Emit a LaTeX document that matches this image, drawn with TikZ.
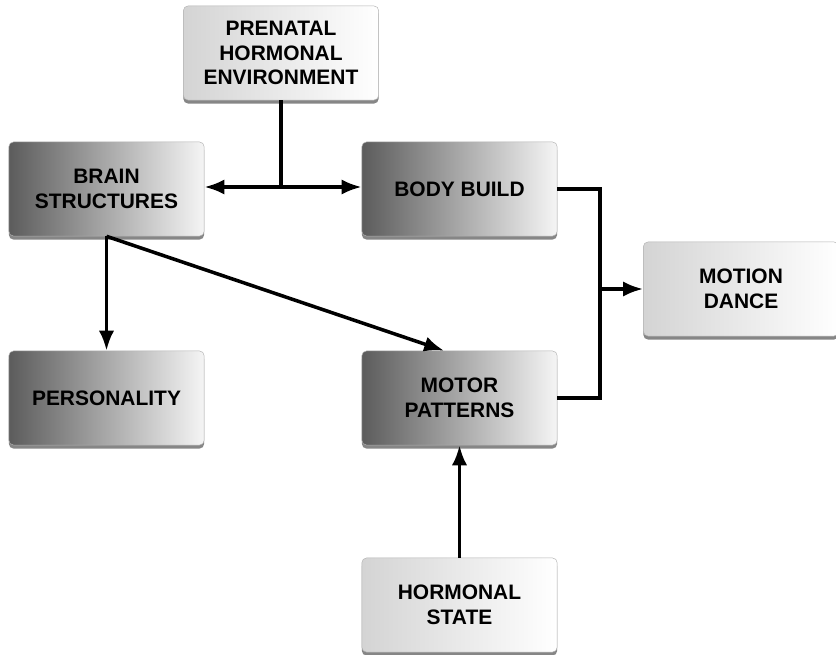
\documentclass[tikz,border=0pt]{standalone}
\usepackage{fontspec}
\setmainfont{Liberation Sans}
\usetikzlibrary{arrows.meta,shadows}

\begin{document}
\begin{tikzpicture}[x=0.85pt,y=-0.85pt,
    box/.style={rounded corners=4pt, draw=gray!60, thin,
        minimum width=166pt, minimum height=80pt, inner sep=2pt,
        align=center, font=\fontsize{17.8}{21}\selectfont\bfseries,
        drop shadow={shadow xshift=0pt, shadow yshift=-3pt, fill=gray!95, opacity=1}},
    darkbox/.style={box, left color=black!64, right color=black!4},
    lightbox/.style={box, left color=black!17, right color=white},
    link/.style={line width=3pt},
    arr/.style={link, -{Latex[length=17pt,width=13pt]}}]
    \useasboundingbox (0,0) rectangle (836,655);

    \node[lightbox] (PH) at (281,53) {PRENATAL\\HORMONAL\\ENVIRONMENT};
    \node[darkbox] (BS) at (106.5,189) {BRAIN\\STRUCTURES};
    \node[darkbox] (BB) at (459.5,189) {BODY BUILD};
    \node[lightbox] (MD) at (741,289) {MOTION\\DANCE};
    \node[darkbox] (PE) at (106.5,398) {PERSONALITY};
    \node[darkbox] (MP) at (459.5,398) {MOTOR\\PATTERNS};
    \node[lightbox] (HS) at (459.5,605) {HORMONAL\\STATE};

    \coordinate (J) at (281,187);
    \coordinate (K) at (600,289);

    \draw[link] (PH.south) -- (J);
    \draw[arr] (J) -- (BS.east |- J);
    \draw[arr] (J) -- (BB.west |- J);
    \draw[arr] (BS.south) -- (PE.north);
    \draw[arr] (BS.south) -- (MP.108);
    \draw[arr] (HS.north) -- (MP.south);
    \draw[link] (BB.east) -| (K);
    \draw[link] (MP.east) -| (K);
    \draw[arr] (K) -- (MD.west);
\end{tikzpicture}
\end{document}
